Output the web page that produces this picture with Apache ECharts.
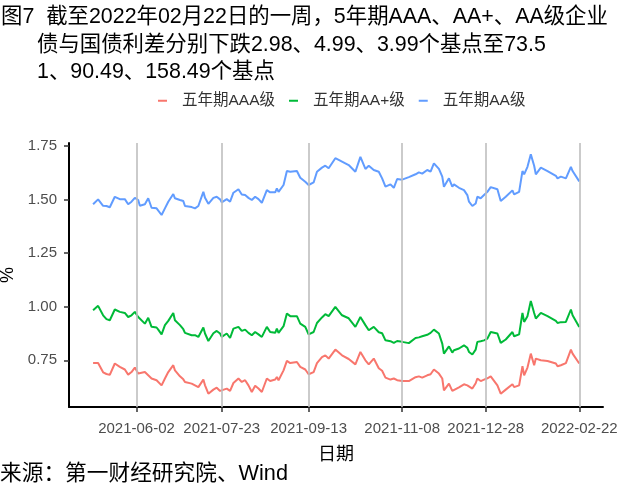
<!DOCTYPE html>
<html>
<head>
<meta charset="utf-8">
<script src="https://cdn.jsdelivr.net/npm/echarts@6/dist/echarts.min.js"></script>
<style>
html,body{margin:0;padding:0;background:#fff;}
#main{width:640px;height:498px;}
</style>
</head>
<body>
<div id="main"></div>
<script>
const dates = ['2021-05-07','2021-05-10','2021-05-13','2021-05-15','2021-05-17','2021-05-20','2021-05-23','2021-05-26','2021-05-28','2021-05-30',
'2021-06-01','2021-06-03','2021-06-04','2021-06-07','2021-06-09','2021-06-11','2021-06-14','2021-06-15','2021-06-17','2021-06-19',
'2021-06-21','2021-06-24','2021-06-25','2021-06-28','2021-06-30','2021-07-01','2021-07-05','2021-07-07','2021-07-09','2021-07-12',
'2021-07-13','2021-07-15','2021-07-18','2021-07-20','2021-07-22','2021-07-23','2021-07-26','2021-07-28','2021-07-30','2021-08-02',
'2021-08-04','2021-08-06','2021-08-08','2021-08-10','2021-08-12','2021-08-14','2021-08-16','2021-08-19','2021-08-21','2021-08-24',
'2021-08-25','2021-08-26','2021-08-29','2021-08-31','2021-09-02','2021-09-06','2021-09-08','2021-09-11','2021-09-13','2021-09-16',
'2021-09-18','2021-09-21','2021-09-23','2021-09-25','2021-09-29','2021-10-03','2021-10-07','2021-10-11','2021-10-14','2021-10-17',
'2021-10-19','2021-10-22','2021-10-25','2021-10-27','2021-10-29','2021-11-01','2021-11-03','2021-11-05','2021-11-08','2021-11-12',
'2021-11-16','2021-11-18','2021-11-20','2021-11-23','2021-11-25','2021-11-27','2021-11-30','2021-12-02','2021-12-03','2021-12-06',
'2021-12-08','2021-12-09','2021-12-12','2021-12-15','2021-12-17','2021-12-18','2021-12-20','2021-12-22','2021-12-23','2021-12-25',
'2021-12-27','2021-12-29','2021-12-31','2022-01-04','2022-01-06','2022-01-09','2022-01-13','2022-01-14','2022-01-17','2022-01-19',
'2022-01-20','2022-01-22','2022-01-24','2022-01-26','2022-01-27','2022-01-30','2022-02-03','2022-02-08','2022-02-09','2022-02-11',
'2022-02-14','2022-02-17','2022-02-18','2022-02-22'];

const aaa = [0.737,0.737,0.694,0.686,0.682,0.735,0.719,0.707,0.683,0.695,
0.716,0.688,0.685,0.695,0.680,0.665,0.657,0.652,0.633,0.665,
0.695,0.727,0.703,0.675,0.661,0.649,0.641,0.633,0.625,0.660,
0.633,0.594,0.613,0.622,0.607,0.602,0.618,0.607,0.644,0.665,
0.649,0.657,0.633,0.602,0.631,0.618,0.602,0.665,0.653,0.660,
0.672,0.657,0.703,0.747,0.737,0.742,0.719,0.707,0.685,0.695,
0.737,0.765,0.773,0.758,0.800,0.773,0.756,0.731,0.789,0.750,
0.731,0.758,0.713,0.701,0.669,0.660,0.665,0.657,0.653,0.653,
0.671,0.675,0.669,0.680,0.685,0.707,0.688,0.665,0.610,0.641,
0.607,0.614,0.624,0.638,0.633,0.625,0.618,0.643,0.665,0.653,
0.660,0.666,0.675,0.633,0.594,0.613,0.638,0.625,0.633,0.722,
0.680,0.716,0.781,0.727,0.758,0.750,0.747,0.735,0.722,0.727,
0.737,0.800,0.781,0.735];

const aaPlus = [0.984,1.004,0.960,0.942,0.937,0.987,0.976,0.971,0.952,0.960,
0.976,0.952,0.945,0.921,0.948,0.906,0.903,0.893,0.871,0.914,
0.934,0.971,0.937,0.914,0.895,0.878,0.867,0.867,0.859,0.903,
0.875,0.840,0.876,0.887,0.875,0.859,0.875,0.854,0.898,0.906,
0.887,0.893,0.878,0.867,0.882,0.871,0.859,0.906,0.882,0.878,
0.898,0.878,0.909,0.968,0.956,0.956,0.921,0.906,0.871,0.882,
0.924,0.950,0.965,0.956,0.999,0.960,0.946,0.906,0.952,0.914,
0.890,0.906,0.881,0.876,0.843,0.839,0.831,0.840,0.836,0.830,
0.854,0.857,0.862,0.869,0.878,0.893,0.875,0.828,0.781,0.815,
0.786,0.797,0.805,0.820,0.808,0.789,0.777,0.800,0.836,0.839,
0.843,0.851,0.882,0.875,0.831,0.847,0.882,0.862,0.871,0.971,
0.929,0.956,1.027,0.971,0.945,0.971,0.956,0.934,0.924,0.928,
0.929,0.987,0.960,0.905];

const aa = [1.478,1.501,1.471,1.470,1.464,1.513,1.502,1.502,1.478,1.490,
1.508,1.498,1.471,1.478,1.506,1.462,1.459,1.451,1.428,1.459,
1.490,1.526,1.506,1.498,1.493,1.470,1.465,1.459,1.470,1.536,
1.508,1.480,1.508,1.513,1.501,1.487,1.502,1.490,1.532,1.548,
1.524,1.521,1.508,1.498,1.513,1.502,1.485,1.544,1.534,1.534,
1.552,1.536,1.568,1.633,1.630,1.633,1.602,1.583,1.568,1.580,
1.630,1.649,1.658,1.646,1.693,1.677,1.661,1.630,1.699,1.643,
1.658,1.638,1.630,1.599,1.560,1.571,1.555,1.596,1.593,1.605,
1.618,1.627,1.621,1.638,1.630,1.669,1.643,1.607,1.560,1.599,
1.560,1.571,1.555,1.544,1.521,1.490,1.470,1.482,1.513,1.506,
1.521,1.536,1.558,1.548,1.493,1.513,1.543,1.524,1.536,1.633,
1.618,1.653,1.711,1.658,1.618,1.649,1.633,1.611,1.599,1.607,
1.599,1.653,1.633,1.585];

const seriesNames = ['五年期AAA级','五年期AA+级','五年期AA级'];
const xTickDates = ['2021-06-02','2021-07-23','2021-09-13','2021-11-08','2021-12-28','2022-02-22'];
const yTicks = [0.75, 1.00, 1.25, 1.50, 1.75];

const titleLines = ['图7  截至2022年02月22日的一周，5年期AAA、AA+、AA级企业',
  '债与国债利差分别下跌2.98、4.99、3.99个基点至73.5',
  '1、90.49、158.49个基点'];
const sourceText = '来源：第一财经研究院、Wind';

const FONT = '"Liberation Sans", Arial, "Noto Sans CJK SC", sans-serif';
const colors = ['#F8766D', '#00BA38', '#619CFF'];
const pd = s => +echarts.number.parseDate(s);
const xTickTs = xTickDates.map(pd);
const pad2 = n => (n < 10 ? '0' : '') + n;
const fmtDate = v => { const d = new Date(v); return d.getFullYear() + '-' + pad2(d.getMonth() + 1) + '-' + pad2(d.getDate()); };

const mk = (arr) => dates.map((d, i) => [pd(d), arr[i]]);

const chart = echarts.init(document.getElementById('main'), null, {renderer: 'canvas'});
const option = {
  animation: false,
  backgroundColor: '#fff',
  textStyle: {fontFamily: FONT},
  grid: {left: 69, right: 37, top: 143, bottom: 91, containLabel: false, outerBoundsMode: 'none'},
  legend: {
    left: 153, top: 88,
    itemWidth: 9, itemHeight: 2, itemGap: 14,
    icon: 'rect',
    data: seriesNames,
    textStyle: {fontSize: 15.5, color: '#333', fontFamily: FONT, padding: [0, 0, 0, 10]}
  },
  graphic: [
    {type: 'text', left: 1, top: 6, style: {text: titleLines[0], font: '21.4px ' + FONT, fill: '#000'}},
    {type: 'text', left: 37, top: 34, style: {text: titleLines[1], font: '21.4px ' + FONT, fill: '#000'}},
    {type: 'text', left: 37, top: 61, style: {text: titleLines[2], font: '21.4px ' + FONT, fill: '#000'}},
    {type: 'text', left: 0, top: 463, style: {text: sourceText, font: '21.7px ' + FONT, fill: '#000'}}
  ],
  xAxis: {
    type: 'value',
    min: pd('2021-04-22T14:00:00'),
    max: pd('2022-03-08T05:00:00'),
    name: '日期',
    nameLocation: 'middle',
    nameGap: 39,
    nameTextStyle: {fontSize: 18, color: '#000', fontFamily: FONT},
    axisLine: {show: true, lineStyle: {color: '#000', width: 2}},
    axisTick: {show: true, customValues: xTickTs, length: 5, lineStyle: {color: '#333', width: 1.5}},
    axisLabel: {
      customValues: xTickTs,
      fontSize: 15, color: '#4d4d4d', margin: 14, fontFamily: FONT,
      formatter: v => fmtDate(v)
    },
    splitLine: {show: false}
  },
  yAxis: {
    type: 'value',
    min: 0.532, max: 1.764,
    name: '%',
    nameLocation: 'middle',
    nameGap: 50,
    nameRotate: 90,
    nameTextStyle: {fontSize: 18, color: '#000', fontFamily: FONT},
    axisLine: {show: true, lineStyle: {color: '#000', width: 2}},
    axisTick: {show: true, customValues: yTicks, length: 5, lineStyle: {color: '#333', width: 1.5}},
    axisLabel: {customValues: yTicks, fontSize: 15, color: '#4d4d4d', margin: 12, fontFamily: FONT,
      formatter: v => v.toFixed(2)},
    splitLine: {show: false}
  },
  series: [
    {
      type: 'line', name: '_grid', data: [], z: 1, silent: true,
      markLine: {
        silent: true, symbol: ['none', 'none'], label: {show: false},
        lineStyle: {color: '#bebebe', width: 1.6, type: 'solid'},
        data: xTickTs.map(t => ({xAxis: t}))
      }
    },
    {type: 'line', name: seriesNames[0], data: mk(aaa), showSymbol: false, z: 3,
      color: colors[0], lineStyle: {width: 2, color: colors[0]}},
    {type: 'line', name: seriesNames[1], data: mk(aaPlus), showSymbol: false, z: 3,
      color: colors[1], lineStyle: {width: 2, color: colors[1]}},
    {type: 'line', name: seriesNames[2], data: mk(aa), showSymbol: false, z: 3,
      color: colors[2], lineStyle: {width: 2, color: colors[2]}}
  ]
};
chart.setOption(option);
</script>
</body>
</html>
